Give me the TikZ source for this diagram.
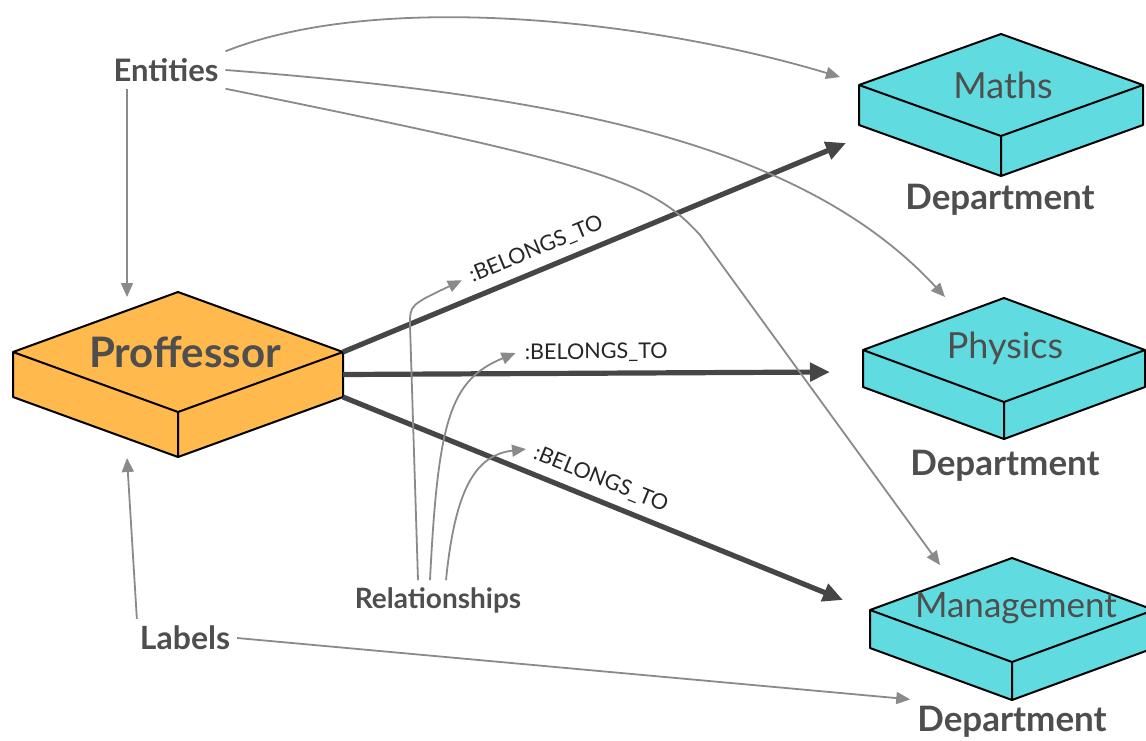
\documentclass[tikz,border=0pt]{standalone}
\usepackage{fontspec}
\setmainfont{Lato}
\usetikzlibrary{arrows.meta,calc,positioning}
\definecolor{txtgray}{HTML}{4E4E4E}
\definecolor{linkgray}{HTML}{8A8A8A}
\definecolor{relgray}{HTML}{464646}
\definecolor{profcol}{HTML}{FFB94D}
\definecolor{deptcol}{HTML}{60DCE1}
\tikzset{
  boxline/.style={draw=black, line width=1pt, line join=round},
  belongs/.style={-{Triangle[length=10pt,width=9pt]}, line width=2.6pt, draw=relgray},
  link/.style={-{Triangle[length=7pt,width=6pt]}, line width=0.9pt, draw=linkgray},
  tag/.style={font=\bfseries\fontsize{16}{18}\selectfont, text=txtgray},
  boxname/.style={font=\fontsize{18}{20}\selectfont, text=txtgray},
  dept/.style={font=\bfseries\fontsize{17.5}{19}\selectfont, text=txtgray},
  rel/.style={font=\fontsize{10.8}{12}\selectfont, text=black!85, sloped, above=1pt}
}
% name, x, y, half width, half height, depth, fill
\newcommand{\isobox}[7]{%
  \draw[boxline, fill=#7] ({#2-#4},#3) -- (#2,{#3-#5}) -- ({#2+#4},#3) -- ({#2+#4},{#3+#6})
    -- (#2,{#3+#5+#6}) -- ({#2-#4},{#3+#6}) -- cycle;
  \draw[boxline] ({#2-#4},#3) -- (#2,{#3+#5}) -- ({#2+#4},#3) (#2,{#3+#5}) -- (#2,{#3+#5+#6});
  \coordinate (#1-e) at ({#2+#4},#3);
  \coordinate (#1-se) at ({#2+#4},{#3+#6});
}

\begin{document}
\begin{tikzpicture}[x=0.5pt, y=-0.5pt]
  \useasboundingbox (0,0) rectangle (1146,740);
  \isobox{prof}{178}{352}{165}{60}{45}{profcol}
  \isobox{maths}{1001}{85}{142}{51}{40}{deptcol}
  \isobox{phys}{1004}{350}{141}{52}{37}{deptcol}
  \isobox{mgmt}{1012}{610}{142}{52}{38}{deptcol}

  \node[font=\bfseries\fontsize{21}{23}\selectfont, text=txtgray] (profname) at (185,352) {Proffessor};
  \node[boxname] (mathsname) at (1003,85) {Maths};
  \node[boxname] (physname) at (1005,348) {Physics};
  \node[boxname, font=\fontsize{17.5}{19}\selectfont] (mgmtname) at (1016,608) {Management};
  \node[dept] (mathsdept) at (1000,200) {Department};
  \node[dept] (physdept) at (1005,466) {Department};
  \node[dept] (mgmtdept) at (1012,722) {Department};

  \node[tag, font=\bfseries\fontsize{15.5}{17}\selectfont] (entities) at (166,70) {Entities};
  \node[tag] (labels) at (185,638) {Labels};
  \node[tag, font=\bfseries\fontsize{14}{16}\selectfont] (rels) at (438,600) {Relationships};

  \coordinate (maths-in) at (846,143);
  \coordinate (phys-in) at (830,372);
  \coordinate (mgmt-in) at (843,600);
  \draw[belongs] (prof-e) -- node[rel, pos=0.4] (rel1) {:BELONGS\_TO} (maths-in);
  \draw[belongs] ($(prof-e)!.5!(prof-se)$) -- node[rel, pos=0.52] (rel2) {:BELONGS\_TO} (phys-in);
  \draw[belongs] (prof-se) -- node[rel, pos=0.5] (rel3) {:BELONGS\_TO} (mgmt-in);

  \coordinate (prof-in) at (127,297);
  \coordinate (prof-out) at (127,458);
  \draw[link] (entities.south -| prof-in) -- (prof-in);
  \draw[link] ([xshift=2pt]labels.north west) -- (prof-out);
  \draw[link] (labels.east) -- (mgmtdept.north west);
  \draw[link] (entities.north east) .. controls (380,-10) and (650,20) .. (840,77);
  \draw[link] (entities.east) .. controls (550,95) and (800,140) .. (945,297);
  \draw[link] (entities.south east) .. controls (600,165) and (650,180) .. (700,235) -- (940,565);

  \draw[link] ([xshift=-10pt]rels.north) -- (410,325) .. controls (410,305) .. (rel1.west);
  \draw[link] ([xshift=-4pt]rels.north) .. controls (438,420) and (450,380) .. (rel2.west);
  \draw[link] ([xshift=4pt]rels.north) .. controls (455,490) and (475,455) .. (rel3.west);
\end{tikzpicture}
\end{document}
